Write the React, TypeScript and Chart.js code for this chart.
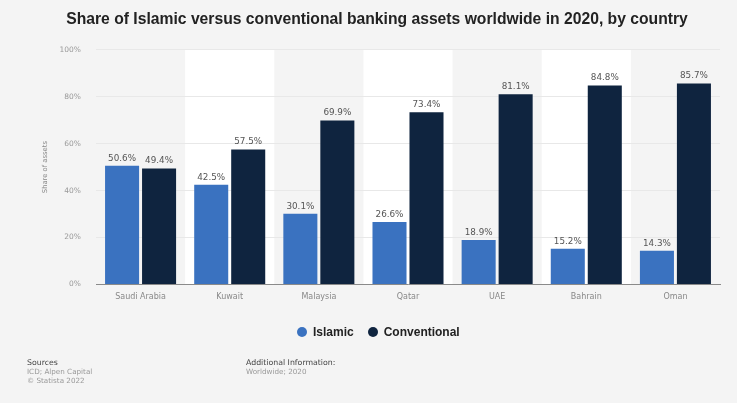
import React, { useEffect, useRef } from "react";
import { Chart, registerables } from "chart.js";

Chart.register(...registerables);

const categories = ["Saudi Arabia", "Kuwait", "Malaysia", "Qatar", "UAE", "Bahrain", "Oman"];
const islamic = [50.6, 42.5, 30.1, 26.6, 18.9, 15.2, 14.3];
const conventional = [49.4, 57.5, 69.9, 73.4, 81.1, 84.8, 85.7];
const seriesNames = ["Islamic", "Conventional"];
const colors = ["#3a72c0", "#0f243f"];
const titleText = "Share of Islamic versus conventional banking assets worldwide in 2020, by country";
const yTitle = "Share of assets";
const sourceLines = ["Sources", "ICD; Alpen Capital", "© Statista 2022"];
const infoLines = ["Additional Information:", "Worldwide; 2020"];

const FONT = "'Liberation Sans', Arial, Helvetica, sans-serif";
const SMALL = "'DejaVu Sans', Verdana, sans-serif";

const bandPlugin = {
  id: "bands",
  beforeDraw(chart: any) {
    const { ctx, chartArea } = chart;
    const x = chart.scales.x;
    ctx.save();
    ctx.fillStyle = "#ffffff";
    const n = categories.length;
    const w = (chartArea.right - chartArea.left) / n;
    for (let i = 1; i < n; i += 2) {
      const cx = x.getPixelForValue(i);
      ctx.fillRect(cx - w / 2, chartArea.top, w, chartArea.bottom - chartArea.top);
    }
    ctx.restore();
  },
};

const labelPlugin = {
  id: "labels",
  afterDatasetsDraw(chart: any) {
    const { ctx, chartArea } = chart;
    ctx.save();
    ctx.font = `8.8px ${SMALL}`;
    ctx.fillStyle = "#555555";
    ctx.textAlign = "center";
    ctx.textBaseline = "bottom";
    chart.data.datasets.forEach((ds: any, di: number) => {
      const meta = chart.getDatasetMeta(di);
      meta.data.forEach((bar: any, i: number) => {
        ctx.fillText(ds.data[i].toFixed(1) + "%", bar.x, bar.y - 3);
      });
    });
    ctx.save();
    ctx.font = `6.8px ${SMALL}`;
    ctx.fillStyle = "#888888";
    ctx.translate(chartArea.left - 51, (chartArea.top + chartArea.bottom) / 2);
    ctx.rotate(-Math.PI / 2);
    ctx.textAlign = "center";
    ctx.textBaseline = "middle";
    ctx.fillText(yTitle, 0, 0);
    ctx.restore();
    ctx.textAlign = "left";
    ctx.textBaseline = "middle";
    const drawLines = (lines: string[], x: number, y: number) => {
      lines.forEach((l, i) => {
        ctx.font = `${i === 0 ? 7.8 : 7.2}px ${SMALL}`;
        ctx.fillStyle = i === 0 ? "#444444" : "#999999";
        ctx.fillText(l, x, y + i * 9);
      });
    };
    drawLines(sourceLines, 27, 363);
    drawLines(infoLines, 246, 363);
    ctx.restore();
  },
};

export default function App() {
  const ref = useRef<HTMLCanvasElement>(null);
  useEffect(() => {
    document.body.style.margin = "0";
    const chart = new Chart(ref.current!, {
      type: "bar",
      data: {
        labels: categories,
        datasets: [
          { label: seriesNames[0], data: islamic, backgroundColor: colors[0], categoryPercentage: 0.83, barPercentage: 0.92 },
          { label: seriesNames[1], data: conventional, backgroundColor: colors[1], categoryPercentage: 0.83, barPercentage: 0.92 },
        ],
      },
      options: {
        responsive: false,
        animation: false,
        layout: { padding: { left: 34, right: 17, top: 0, bottom: 93 } },
        plugins: {
          title: {
            display: true,
            text: titleText,
            color: "#222222",
            font: { family: FONT, size: 15.7, weight: "bold" },
            padding: { top: 10, bottom: 21 },
          },
          legend: { display: false },
          tooltip: { enabled: false },
        },
        scales: {
          x: {
            grid: { display: false, drawTicks: false },
            border: { display: true, color: "#8a8a8a", width: 1 },
            ticks: { color: "#888888", font: { family: SMALL, size: 8 }, padding: 8 },
          },
          y: {
            min: 0,
            max: 100,
            afterFit(scale: any) {
              scale.width = 62;
            },
            grid: { color: "#e8e8e8", drawTicks: false },
            border: { display: false },
            ticks: {
              stepSize: 20,
              color: "#999999",
              font: { family: SMALL, size: 7.5 },
              padding: 15,
              callback: (v: any) => v + "%",
            },
          },
        },
      },
      plugins: [bandPlugin, labelPlugin],
    });
    return () => chart.destroy();
  }, []);
  const item = (name: string, color: string, gap: number) => (
    <div style={{ display: "flex", alignItems: "center", marginRight: gap }}>
      <span style={{ width: 10, height: 10, borderRadius: "50%", background: color, display: "inline-block", marginRight: 6 }} />
      <span style={{ fontFamily: FONT, fontWeight: "bold", fontSize: 12, color: "#222222", lineHeight: "14px" }}>{name}</span>
    </div>
  );
  return (
    <div style={{ position: "fixed", left: 0, top: 0, width: 737, height: 403, background: "#f4f4f4" }}>
      <canvas ref={ref} width={737} height={403} style={{ display: "block" }} />
      <div style={{ position: "absolute", left: 297, top: 325, display: "flex", alignItems: "center" }}>
        {item(seriesNames[0], colors[0], 14)}
        {item(seriesNames[1], colors[1], 0)}
      </div>
    </div>
  );
}
